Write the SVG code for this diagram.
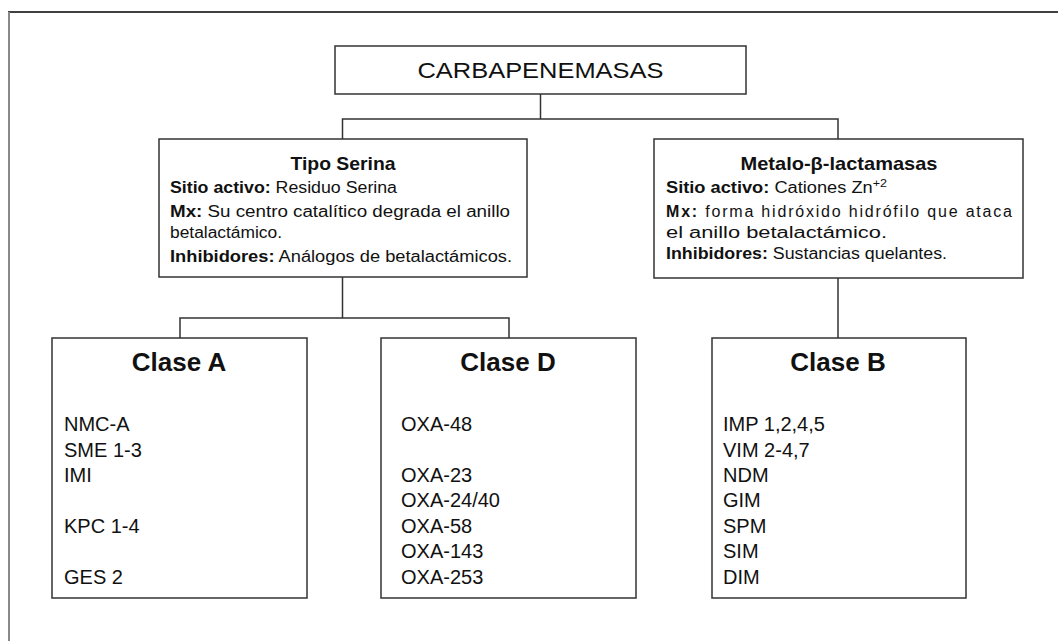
<svg xmlns="http://www.w3.org/2000/svg" width="1058" height="641" viewBox="0 0 1058 641">
<style>
.box{fill:#fff;stroke:#333;stroke-width:1.5}
.con{fill:none;stroke:#333;stroke-width:1.5}
text{font-family:"Liberation Sans",Arial,sans-serif;fill:#111}
.ttl{font-size:19px;font-weight:bold;text-anchor:middle}
.body{font-size:16px}
.b{font-weight:bold}
.cls{font-size:26px;font-weight:bold;text-anchor:middle}
.item{font-size:20px}
</style>
<rect width="1058" height="641" fill="#fff"/>
<g id="frame">
<line x1="8" y1="12" x2="1058" y2="12" stroke="#000" stroke-width="1.5"/>
<line x1="9" y1="12" x2="9" y2="641" stroke="#888" stroke-width="2"/>
</g>
<g id="connectors">
<polyline class="con" points="540.5,94 540.5,119"/>
<polyline class="con" points="342.5,139 342.5,119 838,119 838,139"/>
<polyline class="con" points="342.5,277 342.5,318"/>
<polyline class="con" points="180,338 180,318 509,318 509,338"/>
<polyline class="con" points="838,278 838,338"/>
</g>
<g id="carbapenemasas">
<rect class="box" x="335" y="46" width="411" height="48"/>
<text x="540.5" y="78" font-size="22" text-anchor="middle" textLength="246" lengthAdjust="spacingAndGlyphs">CARBAPENEMASAS</text>
</g>
<g id="tipo-serina">
<rect class="box" x="159" y="139" width="368" height="138"/>
<text class="ttl" x="343" y="170" textLength="105" lengthAdjust="spacingAndGlyphs">Tipo Serina</text>
<text class="body" x="170" y="193" textLength="227" lengthAdjust="spacingAndGlyphs"><tspan class="b">Sitio activo:</tspan> Residuo Serina</text>
<text class="body" x="170" y="217" textLength="340" lengthAdjust="spacingAndGlyphs"><tspan class="b">Mx:</tspan> Su centro catalítico degrada el anillo</text>
<text class="body" x="170" y="238" textLength="112" lengthAdjust="spacingAndGlyphs">betalactámico.</text>
<text class="body" x="170" y="262" textLength="342" lengthAdjust="spacingAndGlyphs"><tspan class="b">Inhibidores:</tspan> Análogos de betalactámicos.</text>
</g>
<g id="metalo">
<rect class="box" x="654" y="139" width="369" height="139"/>
<text class="ttl" x="839" y="170" textLength="197" lengthAdjust="spacingAndGlyphs">Metalo-β-lactamasas</text>
<text class="body" x="666" y="193" textLength="221" lengthAdjust="spacingAndGlyphs"><tspan class="b">Sitio activo:</tspan> Cationes Zn<tspan dy="-6" font-size="11">+2</tspan></text>
<text class="body" x="666" y="217" textLength="346" lengthAdjust="spacing"><tspan class="b">Mx:</tspan> forma hidróxido hidrófilo que ataca</text>
<text class="body" x="666" y="238" textLength="221" lengthAdjust="spacingAndGlyphs">el anillo betalactámico.</text>
<text class="body" x="666" y="259" textLength="281" lengthAdjust="spacingAndGlyphs"><tspan class="b">Inhibidores:</tspan> Sustancias quelantes.</text>
</g>
<g id="clase-a">
<rect class="box" x="52" y="338" width="255" height="260"/>
<text class="cls" x="179" y="371">Clase A</text>
<text class="item" x="64" y="431">NMC-A</text>
<text class="item" x="64" y="457">SME 1-3</text>
<text class="item" x="64" y="482">IMI</text>
<text class="item" x="64" y="533">KPC 1-4</text>
<text class="item" x="64" y="584">GES 2</text>
</g>
<g id="clase-d">
<rect class="box" x="381" y="338" width="255" height="260"/>
<text class="cls" x="508" y="371">Clase D</text>
<text class="item" x="401" y="431">OXA-48</text>
<text class="item" x="401" y="482">OXA-23</text>
<text class="item" x="401" y="507">OXA-24/40</text>
<text class="item" x="401" y="533">OXA-58</text>
<text class="item" x="401" y="558">OXA-143</text>
<text class="item" x="401" y="584">OXA-253</text>
</g>
<g id="clase-b">
<rect class="box" x="712" y="338" width="254" height="260"/>
<text class="cls" x="838" y="371">Clase B</text>
<text class="item" x="723" y="431">IMP 1,2,4,5</text>
<text class="item" x="723" y="457">VIM 2-4,7</text>
<text class="item" x="723" y="482">NDM</text>
<text class="item" x="723" y="507">GIM</text>
<text class="item" x="723" y="533">SPM</text>
<text class="item" x="723" y="558">SIM</text>
<text class="item" x="723" y="584">DIM</text>
</g>
</svg>
